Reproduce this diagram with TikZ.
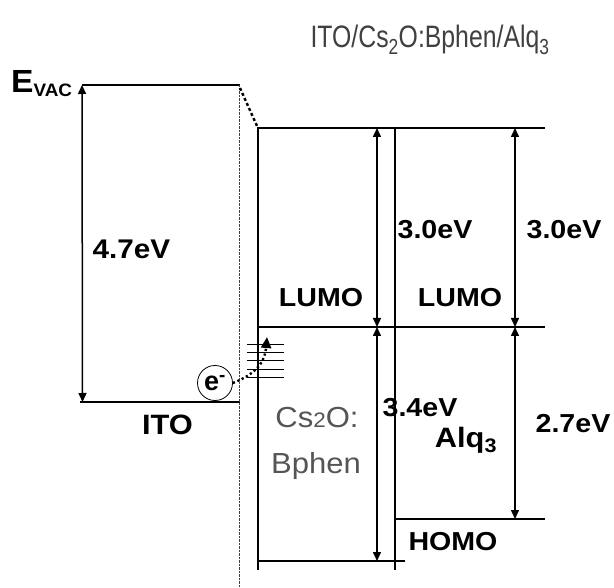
\documentclass[tikz,border=0pt]{standalone}
\usepackage{fontspec}
\setmainfont{Liberation Sans}
\usetikzlibrary{arrows.meta}
\definecolor{titlegray}{HTML}{404040}
\definecolor{layergray}{HTML}{555555}
\tikzset{
  lvl/.style={line width=2.4pt},
  wall/.style={line width=1.6pt},
  tip/.tip={Triangle[width=8pt,length=9pt]},
  gap/.style={line width=1.5pt,{tip}-{tip}},
  lbl/.style={font=\bfseries\fontsize{26}{28}\selectfont, xscale=1.1, inner sep=0pt},
  graylbl/.style={font=\fontsize{29}{31}\selectfont, text=layergray, xscale=1.07, inner sep=0pt},
  trap/.style={line width=0.9pt},
}
\begin{document}
\begin{tikzpicture}[x=1pt,y=-1pt]
\useasboundingbox (0,0) rectangle (614,588);
% coordinates
\coordinate (vacL) at (82,85);
\coordinate (vacR) at (240,85);
\coordinate (itoL) at (80,402);
\coordinate (itoR) at (240,402);
\coordinate (itoA) at (82.5,402);
\coordinate (ifT) at (239.5,85);
\coordinate (ifB) at (239.5,588);
\coordinate (dashA) at (240,88);
\coordinate (dashB) at (257,126);
\coordinate (lumoL) at (257,128);
\coordinate (lumoR) at (545,128);
\coordinate (midL) at (257,327);
\coordinate (midR) at (545,327);
\coordinate (cshL) at (257,561);
\coordinate (cshR) at (405,561);
\coordinate (alhL) at (395,519);
\coordinate (alhR) at (545,519);
\coordinate (w1T) at (258,128);
\coordinate (w1B) at (258,570);
\coordinate (w2T) at (395,128);
\coordinate (w2B) at (395,570);
\coordinate (a1T) at (377,128);
\coordinate (a1M) at (377,327);
\coordinate (a1B) at (377,561);
\coordinate (a2T) at (515,128);
\coordinate (a2M) at (515,327);
\coordinate (a2B) at (515,519);
% levels
\draw[lvl] (vacL) -- (vacR);
\draw[lvl] (itoL) -- (itoR);
\draw[lvl] (lumoL) -- (lumoR);
\draw[lvl] (midL) -- (midR);
\draw[lvl] (cshL) -- (cshR);
\draw[lvl] (alhL) -- (alhR);
% walls
\draw[wall] (w1T) -- (w1B);
\draw[wall] (w2T) -- (w2B);
\draw[line width=1.8pt, dash pattern=on 0.8pt off 0.6pt, black!75] (ifT) -- (ifB);
\draw[line width=2.4pt, dash pattern=on 3pt off 2.5pt] (dashA) -- (dashB);
% gaps
\draw[gap] (vacL) -- (itoA);
\draw[gap] (a1T) -- (a1M);
\draw[gap] (a1M) -- (a1B);
\draw[gap] (a2T) -- (a2M);
\draw[gap] (a2M) -- (a2B);
% traps
\foreach \yy [count=\i] in {344.3,352.6,360.9,369.2,377.5}{
  \coordinate (tL\i) at (247,\yy);
  \coordinate (tR\i) at (284,\yy);
  \draw[trap] (tL\i) -- (tR\i);
}
% electron
\node[circle, draw, line width=0.8pt, minimum size=35pt, inner sep=0pt,
      font=\bfseries\fontsize{27}{28}\selectfont] (elec) at (215,383) {e\textsuperscript{-}};
\coordinate (hopE) at (267,337);
\draw[line width=2.4pt, dash pattern=on 2.2pt off 2.6pt, -{Triangle[width=10pt,length=11pt]}]
  (elec.east) .. controls (256,374) and (265,362) .. (hopE);
% labels
\node[lbl, font=\bfseries\fontsize{27}{29}\selectfont] (l47) at (131.5,249) {4.7eV};
\node[lbl, font=\bfseries\fontsize{28}{30}\selectfont] (lito) at (167.5,425) {ITO};
\node[lbl] (lumo1) at (321,298) {LUMO};
\node[lbl] (lumo2) at (460,298) {LUMO};
\node[lbl] (l30a) at (435,230) {3.0eV};
\node[lbl] (l30b) at (564,230) {3.0eV};
\node[lbl] (l34) at (420,408) {3.4eV};
\node[lbl] (l27) at (573,424) {2.7eV};
\node[lbl] (homo) at (453,542) {HOMO};
\node[lbl, font=\bfseries\fontsize{28}{30}\selectfont] (alq) at (466,440) {Alq\textsubscript{3}};
\node[graylbl] (cso) at (317,418) {Cs{\fontsize{21}{22}\selectfont 2}O:};
\node[graylbl] (bph) at (316,466) {Bphen};
\node[font=\bfseries\fontsize{32}{34}\selectfont, inner sep=0pt, anchor=west, xscale=1.05] (evac) at (11,84) {E\textsubscript{\fontsize{18}{18}\selectfont VAC}};
\node[font=\fontsize{31}{33}\selectfont, text=titlegray, inner sep=0pt, xscale=0.8] (title) at (430,40) {ITO/Cs\textsubscript{2}O:Bphen/Alq\textsubscript{3}};
\end{tikzpicture}
\end{document}
